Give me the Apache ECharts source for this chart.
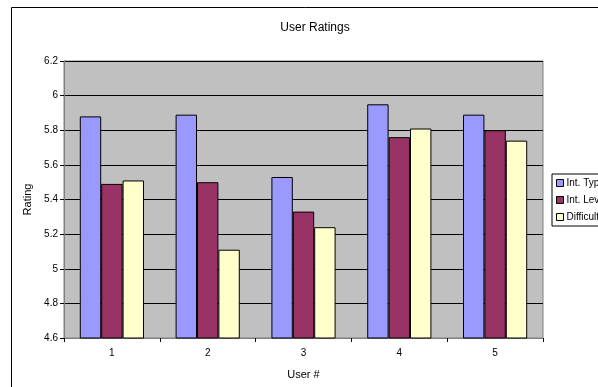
<!DOCTYPE html>
<html>
<head>
<meta charset="utf-8">
<script src="https://cdn.jsdelivr.net/npm/echarts@6/dist/echarts.min.js"></script>
<style>
  html, body { margin: 0; padding: 0; background: #fff; }
  #chart { width: 598px; height: 387px; }
</style>
</head>
<body>
<div id="chart"></div>
<script>
// Users along the x axis
const users = ['1', '2', '3', '4', '5'];

// Average ratings per user for each measure
const intType = [5.88, 5.89, 5.53, 5.95, 5.89];
const intLevel = [5.49, 5.50, 5.33, 5.76, 5.80];
const difficulty = [5.51, 5.11, 5.24, 5.81, 5.74];

const seriesNames = ['Int. Type', 'Int. Level', 'Difficulty'];
const seriesColors = ['#9999FF', '#993366', '#FFFFCC'];

// Value axis range
const yMin = 4.6;
const yMax = 6.2;
const yStep = 0.2;

const font = '"Liberation Sans", Arial, sans-serif';
const chart = echarts.init(document.getElementById('chart'), null, { renderer: 'canvas' });

const makeSeries = (name, data, color) => ({
  name: name,
  type: 'bar',
  data: data,
  barGap: '0%',
  barCategoryGap: '33%',
  itemStyle: { color: color, borderColor: '#000', borderWidth: 1 },
  emphasis: { disabled: true }
});

chart.setOption({
  animation: false,
  textStyle: { fontFamily: font, color: '#000' },
  graphic: [{
    type: 'rect',
    shape: { x: 11.5, y: 7.5, width: 620, height: 400 },
    style: { fill: null, stroke: '#000', lineWidth: 1 },
    z: -1
  }],
  title: {
    text: 'User Ratings',
    left: 310,
    textAlign: 'center',
    top: 17,
    textStyle: { fontFamily: font, fontSize: 12, fontWeight: 'normal', color: '#000' }
  },
  legend: {
    orient: 'vertical',
    left: 552,
    top: 174,
    itemWidth: 7,
    itemHeight: 7,
    itemGap: 7,
    padding: [4, 5, 4, 4],
    borderColor: '#000',
    borderWidth: 1,
    backgroundColor: '#fff',
    icon: 'rect',
    textStyle: { fontFamily: font, fontSize: 10, color: '#000', padding: [0, 0, 0, -2] },
    itemStyle: { borderColor: '#000', borderWidth: 1 },
    data: seriesNames
  },
  grid: {
    left: 64,
    top: 61,
    width: 479,
    height: 277,
    show: true,
    backgroundColor: '#C0C0C0',
    borderColor: '#808080',
    borderWidth: 1
  },
  xAxis: {
    type: 'category',
    data: users,
    name: 'User #',
    nameLocation: 'middle',
    nameGap: 31,
    nameTextStyle: { fontFamily: font, fontSize: 11, color: '#000' },
    axisLine: { lineStyle: { color: '#808080' } },
    axisTick: { show: true, length: 4, lineStyle: { color: '#000' } },
    axisLabel: { fontFamily: font, fontSize: 10, color: '#000', margin: 10 },
    splitLine: { show: false }
  },
  yAxis: {
    type: 'value',
    min: yMin,
    max: yMax,
    interval: yStep,
    name: 'Rating',
    nameLocation: 'middle',
    nameGap: 30,
    nameTextStyle: { fontFamily: font, fontSize: 11, color: '#000' },
    axisLine: { show: true, lineStyle: { color: '#808080' } },
    axisTick: { show: true, length: 4, lineStyle: { color: '#000' } },
    axisLabel: {
      fontFamily: font, fontSize: 10, color: '#000', margin: 6,
      formatter: v => String(parseFloat(v.toFixed(1)))
    },
    splitLine: { show: true, lineStyle: { color: '#000', width: 1 } }
  },
  series: [
    makeSeries(seriesNames[0], intType, seriesColors[0]),
    makeSeries(seriesNames[1], intLevel, seriesColors[1]),
    makeSeries(seriesNames[2], difficulty, seriesColors[2])
  ]
});
</script>
</body>
</html>
